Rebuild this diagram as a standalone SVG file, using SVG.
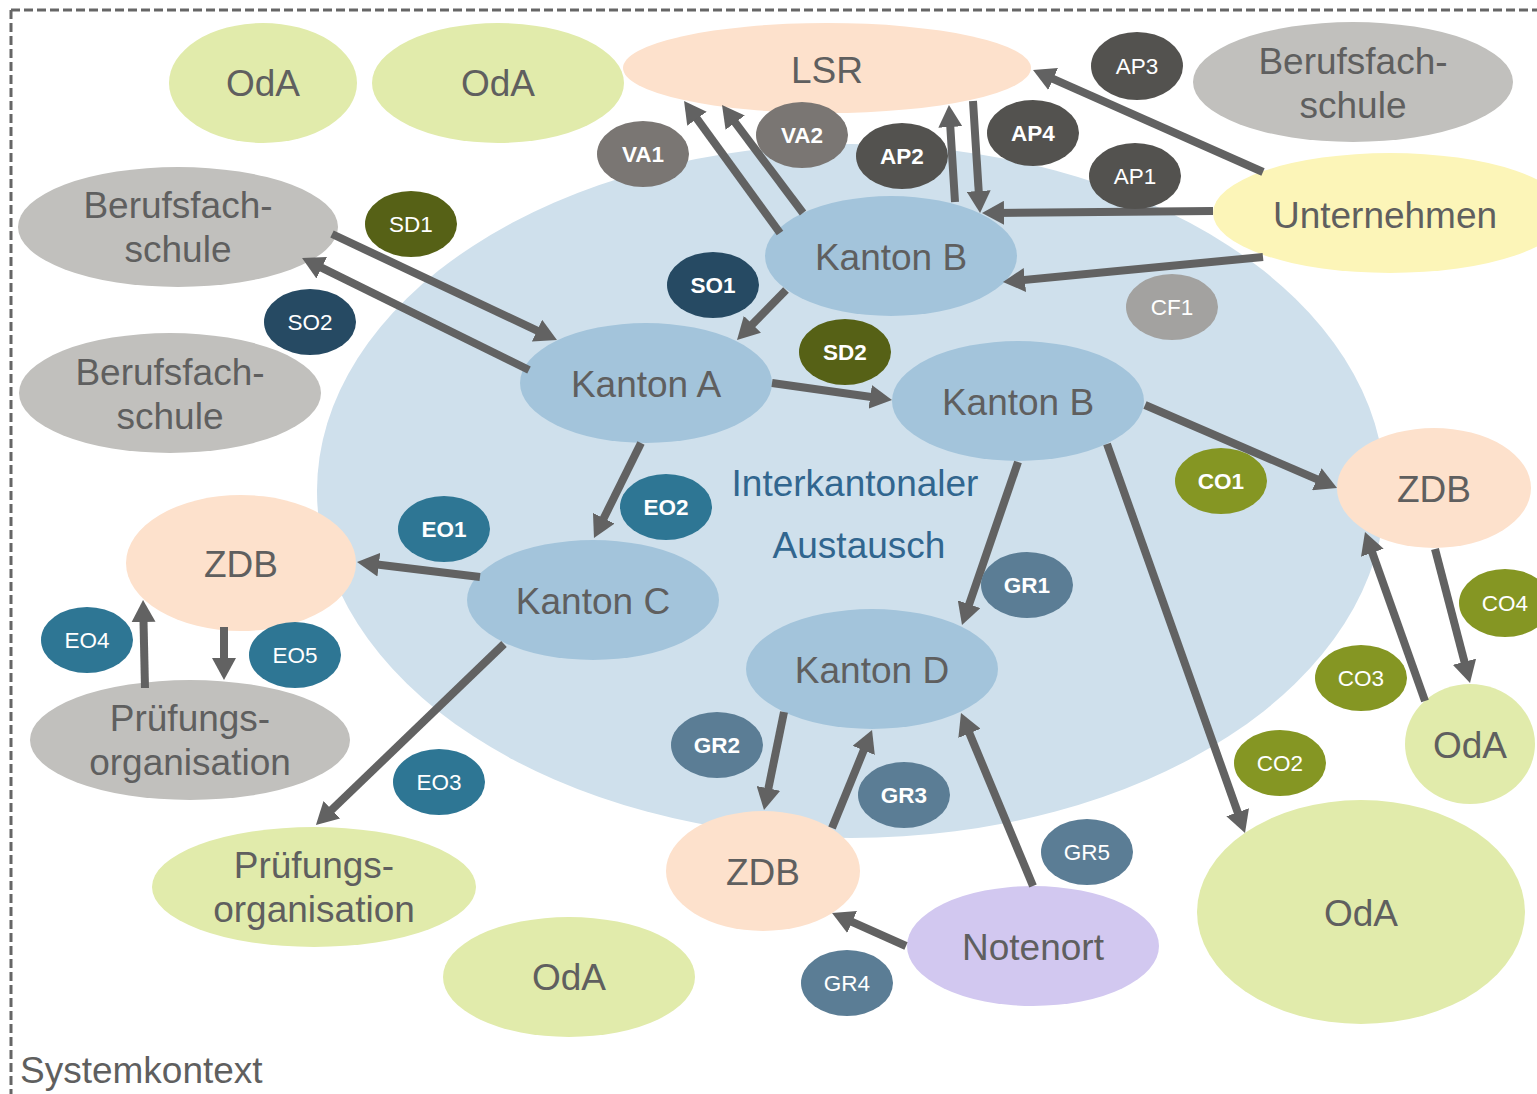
<svg xmlns="http://www.w3.org/2000/svg" width="1537" height="1094" viewBox="0 0 1537 1094">
  <defs>
    <marker id="arrow" markerUnits="userSpaceOnUse" markerWidth="22" markerHeight="24" viewBox="0 0 22 24" refX="10" refY="12" orient="auto">
      <path d="M0,0 L22,12 L0,24 z" fill="#626262"/>
    </marker>
    <style>
      .txt { font-family: "Liberation Sans", Arial, sans-serif; font-size: 37px; fill: #5f5f5f; text-anchor: middle; }
      .lbl { font-family: "Liberation Sans", Arial, sans-serif; font-size: 22.5px; fill: #ffffff; text-anchor: middle; }
      .b { font-weight: bold; }
      .kanton { fill: #a3c4db; }
      .zdb { fill: #fde1cc; }
      .oda { fill: #e1ebab; }
      .grey { fill: #c1c0bd; }
      .conn line { stroke: #626262; stroke-width: 8; marker-end: url(#arrow); }
      .ap { fill: #53524f; }
      .va { fill: #7a7673; }
      .cf { fill: #a3a2a0; }
      .so { fill: #264a63; }
      .sd { fill: #566116; }
      .eo { fill: #2e7694; }
      .co { fill: #859623; }
      .gr { fill: #5b7d95; }
    </style>
  </defs>

  <rect width="1537" height="1094" fill="#ffffff"/>

  <!-- system boundary -->
  <g id="systemkontext">
    <path d="M11,10 H1537 M11,10 V1094" fill="none" stroke="#666666" stroke-width="3" stroke-dasharray="9 4"/>
    <text x="20" y="1083" class="txt" style="text-anchor:start">Systemkontext</text>
  </g>

  <!-- interkantonal exchange area -->
  <g id="austausch">
    <ellipse cx="851" cy="491" rx="534" ry="347" fill="#cfe0ec"/>
    <text x="855" y="496" class="txt" style="fill:#31668f">Interkantonaler</text>
    <text x="859" y="558" class="txt" style="fill:#31668f">Austausch</text>
  </g>

  <!-- nodes -->
  <g id="oda-1"><ellipse cx="263" cy="83" rx="94" ry="60" class="oda"/><text x="263" y="96" class="txt">OdA</text></g>
  <g id="oda-2"><ellipse cx="498" cy="83" rx="126" ry="60" class="oda"/><text x="498" y="96" class="txt">OdA</text></g>
  <g id="lsr"><ellipse cx="827" cy="68" rx="204" ry="45" class="zdb"/><text x="827" y="83" class="txt">LSR</text></g>
  <g id="bfs-oben"><ellipse cx="1353" cy="82" rx="160" ry="60" class="grey"/><text x="1353" y="74" class="txt">Berufsfach-</text><text x="1353" y="118" class="txt">schule</text></g>
  <g id="unternehmen"><ellipse cx="1390" cy="213" rx="177" ry="60" fill="#fcf5b8"/><text x="1385" y="228" class="txt">Unternehmen</text></g>
  <g id="bfs-links-1"><ellipse cx="178" cy="227" rx="160" ry="60" class="grey"/><text x="178" y="218" class="txt">Berufsfach-</text><text x="178" y="262" class="txt">schule</text></g>
  <g id="bfs-links-2"><ellipse cx="170" cy="393" rx="151" ry="60" class="grey"/><text x="170" y="385" class="txt">Berufsfach-</text><text x="170" y="429" class="txt">schule</text></g>
  <g id="kanton-b-oben"><ellipse cx="891" cy="256" rx="126" ry="60" class="kanton"/><text x="891" y="270" class="txt">Kanton B</text></g>
  <g id="kanton-a"><ellipse cx="646" cy="383" rx="126" ry="60" class="kanton"/><text x="646" y="397" class="txt">Kanton A</text></g>
  <g id="kanton-b"><ellipse cx="1018" cy="401" rx="126" ry="60" class="kanton"/><text x="1018" y="415" class="txt">Kanton B</text></g>
  <g id="kanton-c"><ellipse cx="593" cy="600" rx="126" ry="60" class="kanton"/><text x="593" y="614" class="txt">Kanton C</text></g>
  <g id="kanton-d"><ellipse cx="872" cy="669" rx="126" ry="60" class="kanton"/><text x="872" y="683" class="txt">Kanton D</text></g>
  <g id="zdb-links"><ellipse cx="241" cy="563" rx="115" ry="68" class="zdb"/><text x="241" y="577" class="txt">ZDB</text></g>
  <g id="pruefung-grau"><ellipse cx="190" cy="740" rx="160" ry="60" class="grey"/><text x="190" y="731" class="txt">Prüfungs-</text><text x="190" y="775" class="txt">organisation</text></g>
  <g id="pruefung-gruen"><ellipse cx="314" cy="887" rx="162" ry="60" class="oda"/><text x="314" y="878" class="txt">Prüfungs-</text><text x="314" y="922" class="txt">organisation</text></g>
  <g id="oda-unten"><ellipse cx="569" cy="977" rx="126" ry="60" class="oda"/><text x="569" y="990" class="txt">OdA</text></g>
  <g id="zdb-unten"><ellipse cx="763" cy="871" rx="97" ry="60" class="zdb"/><text x="763" y="885" class="txt">ZDB</text></g>
  <g id="notenort"><ellipse cx="1033" cy="946" rx="126" ry="60" fill="#d2c8f0"/><text x="1033" y="960" class="txt">Notenort</text></g>
  <g id="zdb-rechts"><ellipse cx="1434" cy="488" rx="97" ry="60" class="zdb"/><text x="1434" y="502" class="txt">ZDB</text></g>
  <g id="oda-rechts"><ellipse cx="1470" cy="744" rx="65" ry="60" class="oda"/><text x="1470" y="758" class="txt">OdA</text></g>
  <g id="oda-gross"><ellipse cx="1361" cy="912" rx="164" ry="112" class="oda"/><text x="1361" y="926" class="txt">OdA</text></g>

  <!-- connectors -->
  <g id="connectors" class="conn">
    <line x1="1263" y1="172" x2="1044" y2="74.9"/>
    <line x1="1213" y1="211" x2="994" y2="212.9"/>
    <line x1="1263" y1="257" x2="1014.9" y2="280.9"/>
    <line x1="780" y1="233" x2="691.1" y2="110.7"/>
    <line x1="803" y1="213" x2="729.2" y2="114.6"/>
    <line x1="955" y1="202" x2="949.7" y2="117"/>
    <line x1="973" y1="101" x2="979.3" y2="201"/>
    <line x1="786" y1="290" x2="745.4" y2="331.4"/>
    <line x1="332" y1="234" x2="546.1" y2="334.9"/>
    <line x1="529" y1="370" x2="312.8" y2="263.3"/>
    <line x1="772" y1="383" x2="880.1" y2="398.3"/>
    <line x1="641" y1="443" x2="599.3" y2="527.2"/>
    <line x1="480" y1="577" x2="368.9" y2="563.5"/>
    <line x1="145" y1="688" x2="143.3" y2="612"/>
    <line x1="224" y1="627" x2="224" y2="668"/>
    <line x1="504" y1="644" x2="324.6" y2="816.7"/>
    <line x1="1145" y1="405" x2="1326" y2="483.2"/>
    <line x1="1107" y1="444" x2="1241" y2="821.7"/>
    <line x1="1435" y1="549" x2="1467" y2="671.4"/>
    <line x1="1425" y1="701" x2="1369" y2="543.3"/>
    <line x1="1018" y1="462" x2="965.9" y2="613.7"/>
    <line x1="784" y1="712" x2="766.4" y2="798.2"/>
    <line x1="832" y1="828" x2="867.5" y2="741.1"/>
    <line x1="1033" y1="886" x2="965.6" y2="724.1"/>
    <line x1="906" y1="946" x2="843" y2="917.9"/>
  </g>

  <!-- flow labels -->
  <g id="labels">
    <g id="ap3"><ellipse cx="1137" cy="66" rx="46" ry="34" class="ap"/><text x="1137" y="74" class="lbl">AP3</text></g>
    <g id="ap4"><ellipse cx="1033" cy="133" rx="46" ry="33" class="ap"/><text x="1033" y="141" class="lbl b">AP4</text></g>
    <g id="ap1"><ellipse cx="1135" cy="176" rx="46" ry="33" class="ap"/><text x="1135" y="184" class="lbl">AP1</text></g>
    <g id="ap2"><ellipse cx="902" cy="156" rx="46" ry="33" class="ap"/><text x="902" y="164" class="lbl b">AP2</text></g>
    <g id="va1"><ellipse cx="643" cy="154" rx="46" ry="33" class="va"/><text x="643" y="162" class="lbl b">VA1</text></g>
    <g id="va2"><ellipse cx="802" cy="135" rx="46" ry="33" class="va"/><text x="802" y="143" class="lbl b">VA2</text></g>
    <g id="cf1"><ellipse cx="1172" cy="307" rx="46" ry="33" class="cf"/><text x="1172" y="315" class="lbl">CF1</text></g>
    <g id="so1"><ellipse cx="713" cy="285" rx="46" ry="33" class="so"/><text x="713" y="293" class="lbl b">SO1</text></g>
    <g id="sd1"><ellipse cx="411" cy="224" rx="46" ry="33" class="sd"/><text x="411" y="232" class="lbl">SD1</text></g>
    <g id="so2"><ellipse cx="310" cy="322" rx="46" ry="33" class="so"/><text x="310" y="330" class="lbl">SO2</text></g>
    <g id="sd2"><ellipse cx="845" cy="352" rx="46" ry="33" class="sd"/><text x="845" y="360" class="lbl b">SD2</text></g>
    <g id="eo1"><ellipse cx="444" cy="529" rx="46" ry="33" class="eo"/><text x="444" y="537" class="lbl b">EO1</text></g>
    <g id="eo2"><ellipse cx="666" cy="507" rx="46" ry="33" class="eo"/><text x="666" y="515" class="lbl b">EO2</text></g>
    <g id="eo4"><ellipse cx="87" cy="640" rx="46" ry="33" class="eo"/><text x="87" y="648" class="lbl">EO4</text></g>
    <g id="eo5"><ellipse cx="295" cy="655" rx="46" ry="33" class="eo"/><text x="295" y="663" class="lbl">EO5</text></g>
    <g id="eo3"><ellipse cx="439" cy="782" rx="46" ry="33" class="eo"/><text x="439" y="790" class="lbl">EO3</text></g>
    <g id="co1"><ellipse cx="1221" cy="481" rx="46" ry="33" class="co"/><text x="1221" y="489" class="lbl b">CO1</text></g>
    <g id="co4"><ellipse cx="1505" cy="603" rx="46" ry="34" class="co"/><text x="1505" y="611" class="lbl">CO4</text></g>
    <g id="co3"><ellipse cx="1361" cy="678" rx="46" ry="33" class="co"/><text x="1361" y="686" class="lbl">CO3</text></g>
    <g id="co2"><ellipse cx="1280" cy="763" rx="46" ry="33" class="co"/><text x="1280" y="771" class="lbl">CO2</text></g>
    <g id="gr1"><ellipse cx="1027" cy="585" rx="46" ry="33" class="gr"/><text x="1027" y="593" class="lbl b">GR1</text></g>
    <g id="gr2"><ellipse cx="717" cy="745" rx="46" ry="33" class="gr"/><text x="717" y="753" class="lbl b">GR2</text></g>
    <g id="gr3"><ellipse cx="904" cy="795" rx="46" ry="33" class="gr"/><text x="904" y="803" class="lbl b">GR3</text></g>
    <g id="gr5"><ellipse cx="1087" cy="852" rx="46" ry="33" class="gr"/><text x="1087" y="860" class="lbl">GR5</text></g>
    <g id="gr4"><ellipse cx="847" cy="983" rx="46" ry="33" class="gr"/><text x="847" y="991" class="lbl">GR4</text></g>
  </g>
</svg>
